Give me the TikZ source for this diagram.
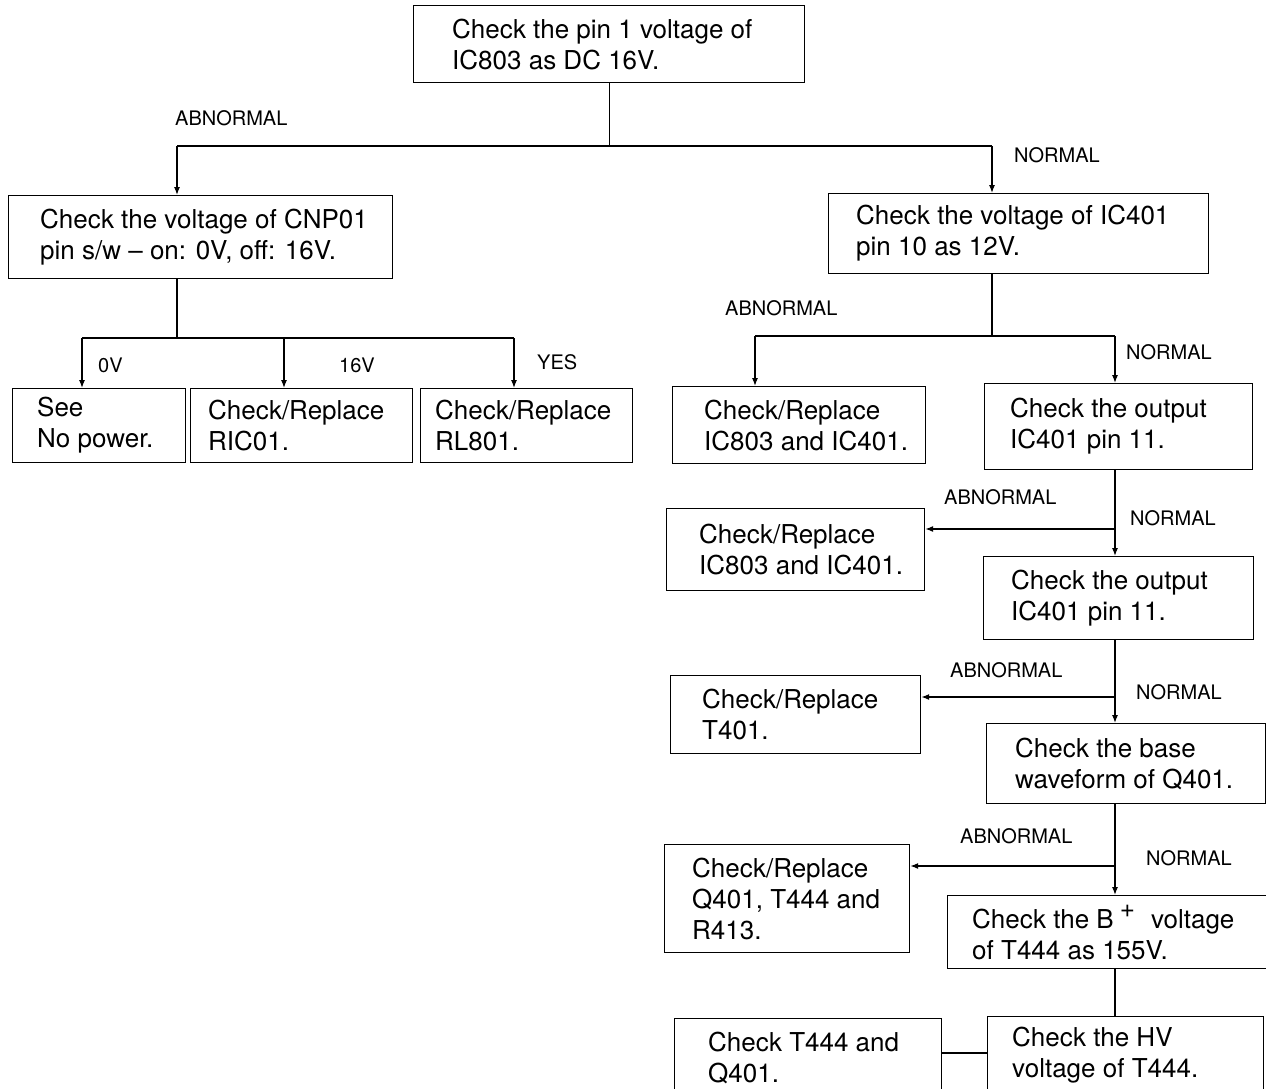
\documentclass[tikz,border=0pt]{standalone}
\usepackage{fontspec}
\setmainfont{TeX Gyre Heros}
\usetikzlibrary{arrows.meta}

\begin{document}
\begin{tikzpicture}[x=1pt,y=-1pt,
			box/.style={draw,line width=1.2pt,rectangle,anchor=north west,inner sep=0pt},
			tx/.style={anchor=west,align=left,inner sep=0pt,font=\fontsize{26}{31}\selectfont},
			lbl/.style={anchor=west,inner sep=0pt,font=\fontsize{20}{22}\selectfont},
			arr/.style={-{Latex[length=8pt,width=6pt]},line width=1.2pt},
			wire/.style={line width=1.2pt}]
			\useasboundingbox (0,0) rectangle (1266,1089);
			\clip (0,0) rectangle (1266,1089);

			% top check
			\node (check16) [box,minimum width=391,minimum height=77,
				label={[tx,xshift=39]west:{Check the pin 1 voltage of\\IC803 as DC 16V.}}] at (413,5) {};

			% abnormal side
			\node (cnp) [box,minimum width=384,minimum height=83,
				label={[tx,xshift=32]west:{Check the voltage of CNP01\\pin s/w -- on: 0V, off: 16V.}}] at (8,195) {};
			\node (nopower) [box,minimum width=173,minimum height=74,
				label={[tx,xshift=25]west:{See\\No power.}}] at (12,388) {};
			\node (ric) [box,minimum width=222,minimum height=74,
				label={[tx,xshift=18]west:{Check/Replace\\RIC01.}}] at (190,388) {};
			\node (rl) [box,minimum width=212,minimum height=74,
				label={[tx,xshift=15]west:{Check/Replace\\RL801.}}] at (420,388) {};

			% normal side
			\node (ic401v) [box,minimum width=380,minimum height=80,
				label={[tx,xshift=28]west:{Check the voltage of IC401\\pin 10 as 12V.}}] at (828,193) {};
			\node (repA) [box,minimum width=253,minimum height=77,
				label={[tx,xshift=32]west:{Check/Replace\\IC803 and IC401.}}] at (672,386) {};
			\node (outA) [box,minimum width=268,minimum height=86,
				label={[tx,xshift=26]west:{Check the output\\IC401 pin 11.}}] at (984,383) {};
			\node (repB) [box,minimum width=258,minimum height=82,
				label={[tx,xshift=33]west:{Check/Replace\\IC803 and IC401.}}] at (666,508) {};
			\node (outB) [box,minimum width=270,minimum height=83,
				label={[tx,xshift=28]west:{Check the output\\IC401 pin 11.}}] at (983,556) {};
			\node (repT) [box,minimum width=250,minimum height=78,
				label={[tx,xshift=32]west:{Check/Replace\\T401.}}] at (670,675) {};
			\node (base) [box,minimum width=279,minimum height=80,
				label={[tx,xshift=29]west:{Check the base\\waveform of Q401.}}] at (986,723) {};
			\node (repQ) [box,minimum width=245,minimum height=108,
				label={[tx,xshift=28]west:{Check/Replace\\Q401, T444 and\\R413.}}] at (664,844) {};
			\node (bplus) [box,minimum width=322,minimum height=73,
				label={[tx,xshift=25]west:{Check the B\hspace{6pt}\raisebox{11pt}{+}\hspace{16pt}voltage\\of T444 as 155V.}}] at (947,895) {};
			\node (hv) [box,minimum width=276,minimum height=78,
				label={[tx,xshift=25]west:{Check the HV\\voltage of T444.}}] at (987,1016) {};
			\node (t444) [box,minimum width=267,minimum height=78,
				label={[tx,xshift=34]west:{Check T444 and\\Q401.}}] at (674,1018) {};

			% branch points
			\coordinate (fL) at (177,146);
			\coordinate (fR) at (992,146);
			\coordinate (gA) at (82,338);
			\coordinate (gB) at (284,338);
			\coordinate (gC) at (514,338);
			\coordinate (hA) at (755,336);
			\coordinate (hB) at (1115,336);
			\coordinate (k1) at (1115,529);
			\coordinate (k2) at (1115,697);
			\coordinate (k3) at (1115,866);
			\coordinate (k4) at (987,1053);

			\draw[wire] (check16.south) -- (check16.south |- fL);
			\draw[wire] (fL) -- (fR);
			\draw[arr] (fL) -- (fL |- cnp.north);
			\draw[arr] (fR) -- (fR |- ic401v.north);

			\draw[wire] (fL |- cnp.south) -- (fL |- gA);
			\draw[wire] (gA) -- (gC);
			\draw[arr] (gA) -- (gA |- nopower.north);
			\draw[arr] (gB) -- (gB |- ric.north);
			\draw[arr] (gC) -- (gC |- rl.north);

			\draw[wire] (fR |- ic401v.south) -- (fR |- hA);
			\draw[wire] (hA) -- (hB);
			\draw[arr] (hA) -- (hA |- repA.north);
			\draw[arr] (hB) -- (hB |- outA.north);

			\draw[arr] (hB |- outA.south) -- (hB |- outB.north);
			\draw[arr] (k1) -- (k1 -| repB.east);
			\draw[arr] (hB |- outB.south) -- (hB |- base.north);
			\draw[arr] (k2) -- (k2 -| repT.east);
			\draw[arr] (hB |- base.south) -- (hB |- bplus.north);
			\draw[arr] (k3) -- (k3 -| repQ.east);
			\draw[wire] (hB |- bplus.south) -- (hB |- hv.north);
			\draw[wire] (hv.west |- k4) -- (k4 -| t444.east);

			% branch labels
			\node (ab0) [lbl] at (175,118) {ABNORMAL};
			\node (no0) [lbl] at (1014,155) {NORMAL};
			\node (v0) [lbl] at (98,365) {0V};
			\node (v16) [lbl] at (339,365) {16V};
			\node (yes) [lbl] at (537,362) {YES};
			\node (ab1) [lbl] at (725,308) {ABNORMAL};
			\node (no1) [lbl] at (1126,352) {NORMAL};
			\node (ab2) [lbl] at (944,497) {ABNORMAL};
			\node (no2) [lbl] at (1130,518) {NORMAL};
			\node (ab3) [lbl] at (950,670) {ABNORMAL};
			\node (no3) [lbl] at (1136,692) {NORMAL};
			\node (ab4) [lbl] at (960,836) {ABNORMAL};
			\node (no4) [lbl] at (1146,858) {NORMAL};
		\end{tikzpicture}
\end{document}
